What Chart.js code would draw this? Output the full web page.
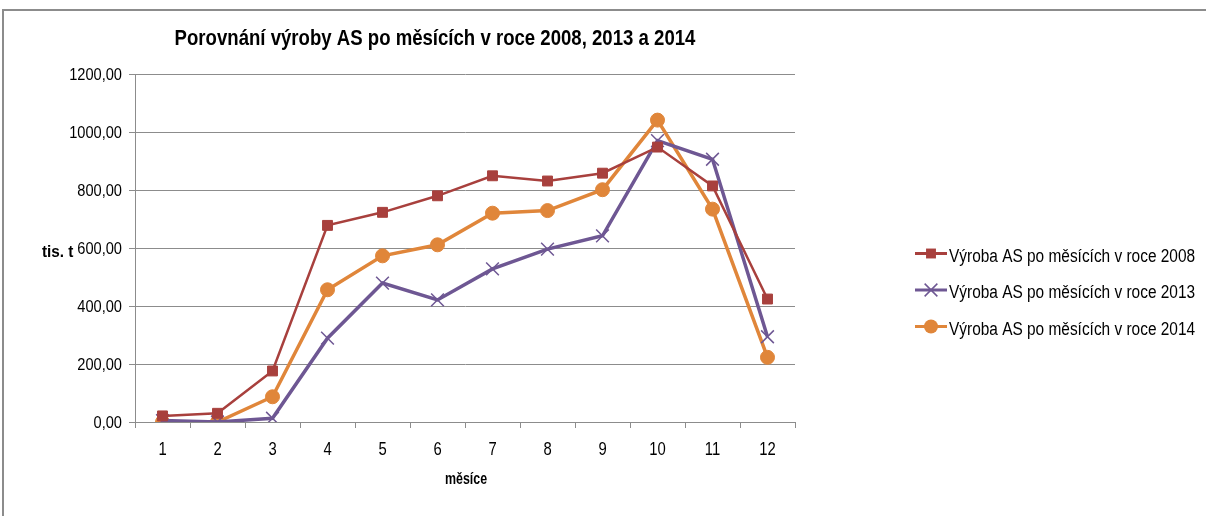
<!DOCTYPE html>
<html>
<head>
<meta charset="utf-8">
<script src="https://cdn.jsdelivr.net/npm/chart.js@4.4.1/dist/chart.umd.min.js"></script>
<style>
  html, body { margin: 0; padding: 0; background: #fff; }
  #wrap { width: 1206px; height: 516px; position: relative; }
</style>
</head>
<body>
<div id="wrap"><canvas id="chart" width="1206" height="516"></canvas></div>
<script>
const months = ['1', '2', '3', '4', '5', '6', '7', '8', '9', '10', '11', '12'];
const vyroba2008 = [21, 30, 176, 678, 723, 780, 849, 831, 858, 948, 814, 424];
const vyroba2013 = [5, 0, 13, 289, 479, 421, 528, 596, 642, 970, 906, 294];
const vyroba2014 = [0, 0, 87, 456, 573, 611, 720, 729, 801, 1041, 734, 223];
const yTicks = [0, 200, 400, 600, 800, 1000, 1200];

const FONT = '"Liberation Sans", Arial, sans-serif';

// no narrow font installed, so squeeze text horizontally
function narrowText(ctx, text, x, y, font, sx, align) {
  ctx.save();
  ctx.font = font;
  ctx.textAlign = align || 'left';
  ctx.textBaseline = 'alphabetic';
  ctx.translate(x, y);
  ctx.scale(sx, 1);
  ctx.fillText(text, 0, 0);
  ctx.restore();
}

// title, axis titles, tick labels, legend and outer frame drawn by hand
const extras = {
  id: 'extras',
  beforeDraw(chart) {
    const ctx = chart.ctx;
    ctx.save();
    ctx.strokeStyle = '#8c8c8c';
    ctx.lineWidth = 2;
    ctx.beginPath();
    ctx.moveTo(3, 516);
    ctx.lineTo(3, 10);
    ctx.lineTo(1206, 10);
    ctx.stroke();
    ctx.restore();
  },
  afterDraw(chart) {
    const ctx = chart.ctx;
    const xs = chart.scales.x, ys = chart.scales.y;
    ctx.save();
    ctx.fillStyle = '#000';
    narrowText(ctx, 'Porovnání výroby AS po měsících v roce 2008, 2013 a 2014', 435, 45, 'bold 22px ' + FONT, 0.845, 'center');
    narrowText(ctx, 'měsíce', 466, 484, 'bold 17px ' + FONT, 0.73, 'center');
    narrowText(ctx, 'tis. t', 42, 257, 'bold 17px ' + FONT, 0.9, 'left');

    ys.ticks.forEach(t => {
      const y = ys.getPixelForValue(t.value);
      narrowText(ctx, t.value.toFixed(2).replace('.', ','), 122, y + 6, '17px ' + FONT, 0.86, 'right');
    });
    xs.ticks.forEach((t, i) => {
      narrowText(ctx, months[i], xs.getPixelForTick(i), 455, '19px ' + FONT, 0.78, 'center');
    });

    // legend
    chart.data.datasets.forEach((ds, i) => {
      const y = 253.5 + i * 36.5;
      const cx = 931;
      ctx.strokeStyle = ds.borderColor;
      ctx.lineWidth = 3;
      ctx.beginPath();
      ctx.moveTo(915, y);
      ctx.lineTo(947, y);
      ctx.stroke();
      ctx.fillStyle = ds.pointBackgroundColor;
      ctx.strokeStyle = ds.pointBorderColor;
      ctx.lineWidth = ds.pointBorderWidth;
      ctx.beginPath();
      const r = ds.pointRadius;
      if (ds.pointStyle === 'rect') {
        const s = Math.SQRT1_2 * r;
        ctx.fillRect(cx - s, y - s, 2 * s, 2 * s);
      } else if (ds.pointStyle === 'circle') {
        ctx.arc(cx, y, r, 0, Math.PI * 2);
        ctx.fill();
      } else {
        const o = Math.SQRT1_2 * r;
        ctx.moveTo(cx - o, y - o); ctx.lineTo(cx + o, y + o);
        ctx.moveTo(cx - o, y + o); ctx.lineTo(cx + o, y - o);
        ctx.stroke();
      }
      ctx.fillStyle = '#000';
      narrowText(ctx, ds.label, 949, y + 8, '18px ' + FONT, 0.857, 'left');
    });
    ctx.restore();
  }
};

new Chart(document.getElementById('chart'), {
  type: 'line',
  data: {
    labels: months,
    datasets: [
      {
        label: 'Výroba AS po měsících v roce 2008',
        data: vyroba2008,
        borderColor: '#a8403d',
        backgroundColor: '#a8403d',
        pointBackgroundColor: '#a8403d',
        pointBorderColor: '#a8403d',
        borderWidth: 2.5,
        pointStyle: 'rect',
        pointRadius: 7,
        pointBorderWidth: 1
      },
      {
        label: 'Výroba AS po měsících v roce 2013',
        data: vyroba2013,
        borderColor: '#6e5793',
        backgroundColor: '#6e5793',
        pointBackgroundColor: '#6e5793',
        pointBorderColor: '#6e5793',
        borderWidth: 3.5,
        pointStyle: 'crossRot',
        pointRadius: 9,
        pointBorderWidth: 1.5
      },
      {
        label: 'Výroba AS po měsících v roce 2014',
        data: vyroba2014,
        borderColor: '#e0863a',
        backgroundColor: '#e0863a',
        pointBackgroundColor: '#e0863a',
        pointBorderColor: '#e0863a',
        borderWidth: 3.5,
        pointStyle: 'circle',
        pointRadius: 7,
        pointBorderWidth: 1
      }
    ]
  },
  options: {
    responsive: false,
    animation: false,
    layout: { padding: { left: 0, top: 74, right: 411, bottom: 0 } },
    plugins: {
      legend: { display: false },
      title: { display: false },
      tooltip: { enabled: false }
    },
    scales: {
      x: {
        offset: true,
        grid: { offset: true, drawOnChartArea: false, color: '#8c8c8c', tickLength: 6 },
        border: { color: '#8c8c8c' },
        ticks: { display: false },
        afterFit(scale) { scale.height = 94; }
      },
      y: {
        min: 0,
        max: 1200,
        afterBuildTicks(scale) { scale.ticks = yTicks.map(v => ({ value: v })); },
        grid: { color: '#8c8c8c', tickLength: 6 },
        border: { color: '#8c8c8c' },
        ticks: { display: false },
        afterFit(scale) { scale.width = 135; }
      }
    }
  },
  plugins: [extras]
});
</script>
</body>
</html>
